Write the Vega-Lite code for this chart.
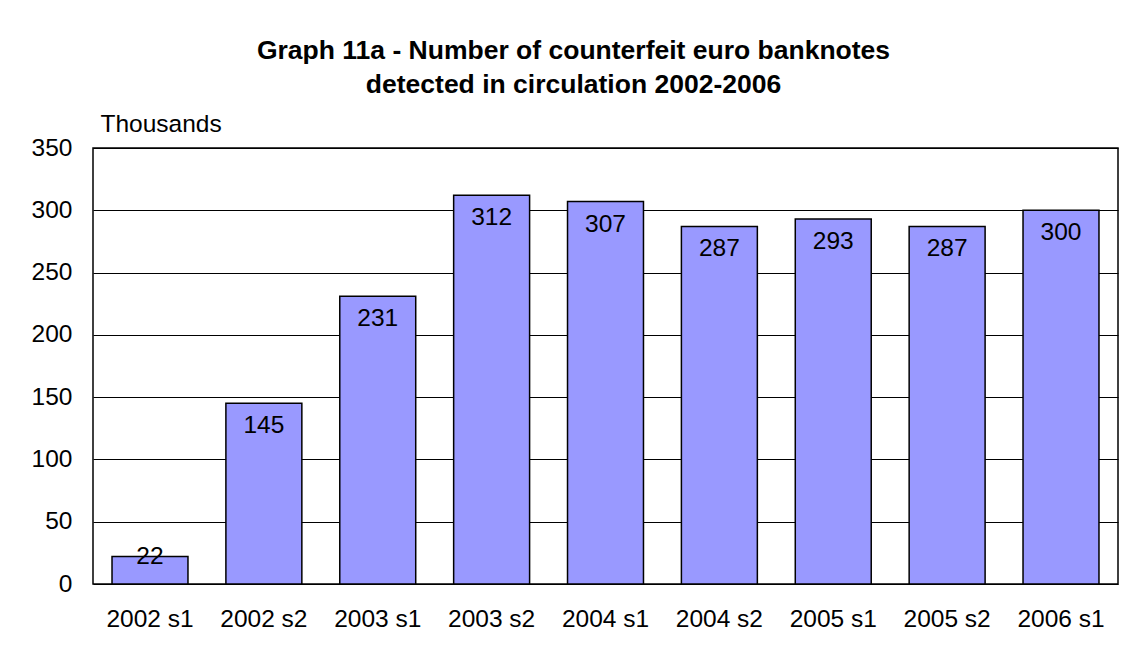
{
  "$schema": "https://vega.github.io/schema/vega-lite/v6.json",
  "autosize": "none",
  "width": 1025,
  "height": 436,
  "padding": {"left": 93, "top": 148, "right": 7, "bottom": 72},
  "background": "white",
  "title": {
    "text": ["Graph 11a - Number of counterfeit euro banknotes", "detected in circulation 2002-2006"],
    "font": "Liberation Sans",
    "fontSize": 26.5,
    "fontWeight": "bold",
    "color": "black",
    "anchor": "middle",
    "frame": "group",
    "dx": -32,
    "offset": 13,
    "lineHeight": 34
  },
  "data": {
    "values": [
      {"period": "2002 s1", "value": 22},
      {"period": "2002 s2", "value": 145},
      {"period": "2003 s1", "value": 231},
      {"period": "2003 s2", "value": 312},
      {"period": "2004 s1", "value": 307},
      {"period": "2004 s2", "value": 287},
      {"period": "2005 s1", "value": 293},
      {"period": "2005 s2", "value": 287},
      {"period": "2006 s1", "value": 300}
    ]
  },
  "encoding": {
    "x": {
      "field": "period",
      "type": "nominal",
      "sort": null,
      "scale": {"paddingInner": 0.333, "paddingOuter": 0.167},
      "axis": {
        "title": null,
        "labelAngle": 0,
        "ticks": false,
        "domain": false,
        "labelFont": "Liberation Sans",
        "labelFontSize": 24.5,
        "labelColor": "black",
        "labelPadding": 23
      }
    },
    "y": {
      "field": "value",
      "type": "quantitative",
      "scale": {"domain": [0, 350], "nice": false},
      "axis": {
        "values": [0, 50, 100, 150, 200, 250, 300, 350],
        "title": "Thousands",
        "titleAngle": 0,
        "titleAlign": "left",
        "titleBaseline": "alphabetic",
        "titleX": 7,
        "titleY": -17,
        "titleFont": "Liberation Sans",
        "titleFontSize": 24.5,
        "titleFontWeight": "normal",
        "titleColor": "black",
        "ticks": false,
        "domain": false,
        "grid": true,
        "gridColor": "black",
        "gridOpacity": 1,
        "gridWidth": 1,
        "labelFont": "Liberation Sans",
        "labelFontSize": 24.5,
        "labelColor": "black",
        "labelPadding": 21
      }
    }
  },
  "layer": [
    {
      "mark": {"type": "bar", "color": "#9999FF", "stroke": "black", "strokeWidth": 1.5}
    },
    {
      "transform": [{"filter": "datum.value >= 50"}],
      "mark": {"type": "text", "baseline": "middle", "dy": 23, "font": "Liberation Sans", "fontSize": 24.5, "color": "black"},
      "encoding": {"text": {"field": "value", "type": "quantitative"}}
    },
    {
      "transform": [{"filter": "datum.value < 50"}],
      "mark": {"type": "text", "baseline": "middle", "dy": 0, "font": "Liberation Sans", "fontSize": 24.5, "color": "black"},
      "encoding": {"text": {"field": "value", "type": "quantitative"}}
    }
  ],
  "config": {
    "view": {"stroke": "black", "strokeWidth": 1.5},
    "axis": {"gridColor": "black"}
  }
}
